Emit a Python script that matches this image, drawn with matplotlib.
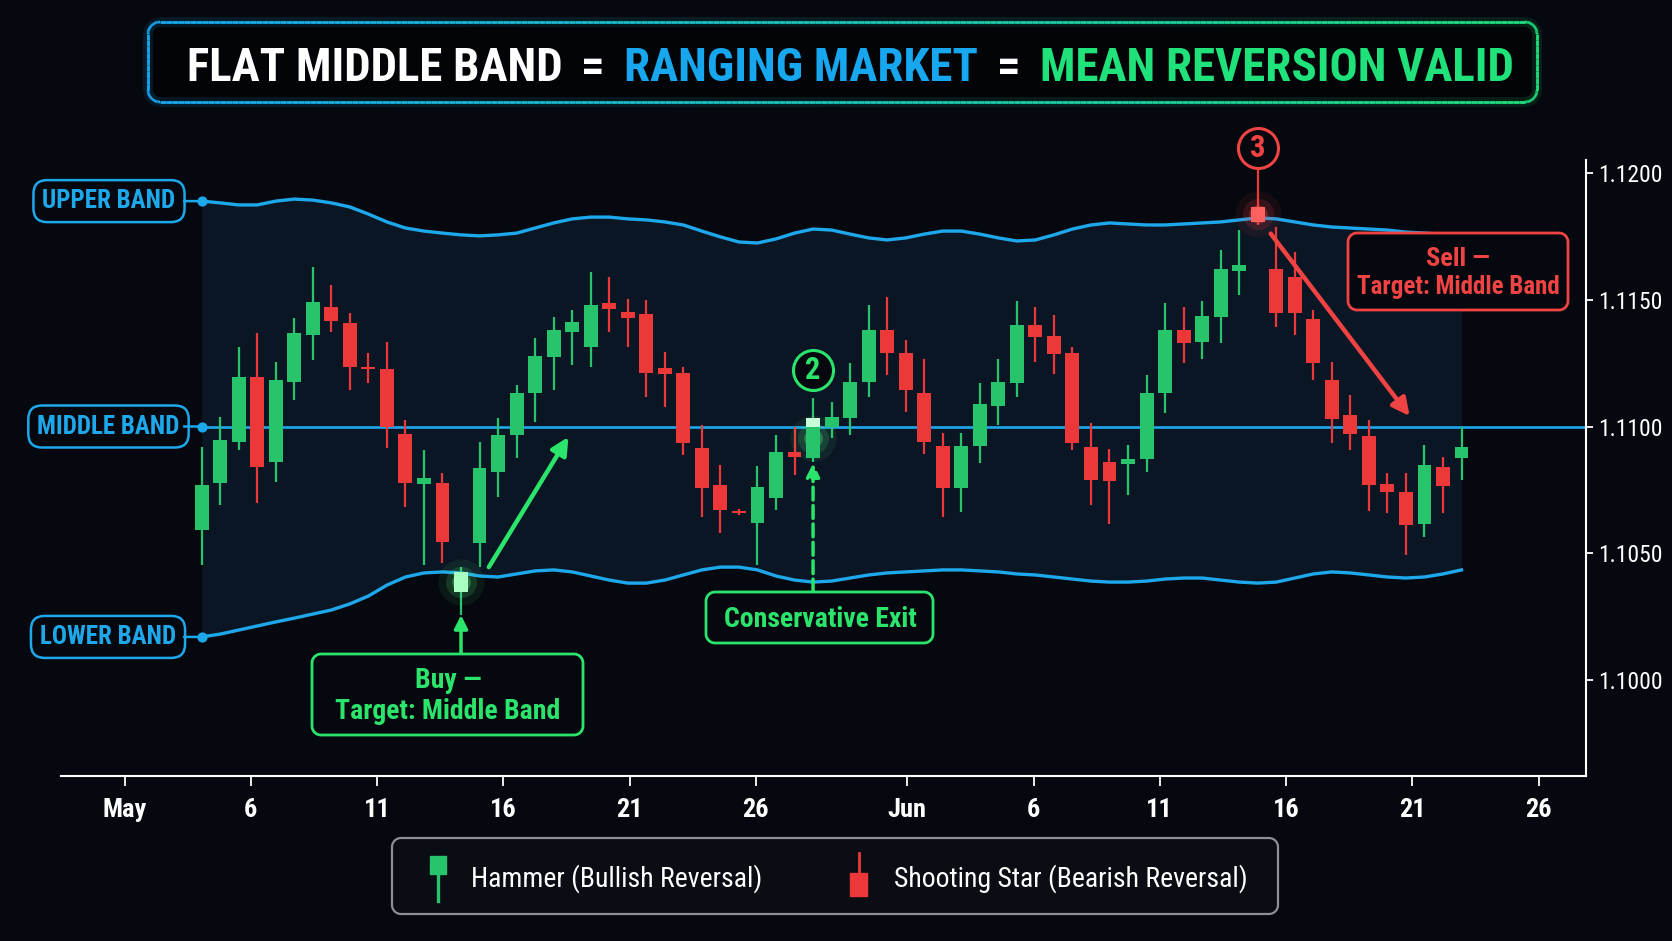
import numpy as np
import pandas as pd
import matplotlib
matplotlib.use('Agg')
import matplotlib.pyplot as plt
import matplotlib.dates as mdates
import matplotlib.colors as mcolors
import matplotlib.transforms as mtransforms
from matplotlib import font_manager
from matplotlib.patches import Polygon, Rectangle, ConnectionPatch
from matplotlib.collections import LineCollection

W, H = 1672, 941


def pick_font(cands):
    for name in cands:
        ws = set()
        for f in font_manager.fontManager.ttflist:
            if f.name == name and '[' not in f.fname and f.style == 'normal':
                try:
                    ws.add(int(f.weight))
                except ValueError:
                    ws.add({'bold': 700, 'normal': 400, 'regular': 400}.get(f.weight, 0))
        if 700 in ws and 400 in ws:
            return name
    return 'DejaVu Sans'


NARROW = pick_font(['Roboto Condensed', 'Barlow Condensed', 'Fira Sans Condensed',
                    'IBM Plex Sans Condensed', 'Asap Condensed', 'Encode Sans Condensed'])
plt.rcParams['font.family'] = [NARROW, 'DejaVu Sans']
plt.rcParams['font.stretch'] = 'condensed'

BG = '#05080e'
BAND_FILL = '#0b1624'
BLUE = '#1ea8ec'
UP = '#28c46c'
DOWN = '#ec3838'
GREEN_TXT = '#2be46c'
RED_TXT = '#f04343'
TITLE_BLUE = '#17a7ef'
TITLE_GREEN = '#1fe27a'

# ---- data ----
first_bar = '2024-05-04 01:12'
last_bar = '2024-06-22 22:48'

opens = [1.10592, 1.10776, 1.10940, 1.11194, 1.10861, 1.11177, 1.11361, 1.11470, 1.11409, 1.11233,
         1.11225, 1.10969, 1.10773, 1.10776, 1.10348, 1.10540, 1.10822, 1.10967, 1.11133, 1.11275,
         1.11374, 1.11314, 1.11485, 1.11452, 1.11443, 1.11229, 1.11210, 1.10914, 1.10770, 1.10667,
         1.10619, 1.10717, 1.10901, 1.10875, 1.10999, 1.11032, 1.11177, 1.11380, 1.11291, 1.11131,
         1.10924, 1.10756, 1.10923, 1.11081, 1.11173, 1.11400, 1.11357, 1.11288, 1.10918, 1.10861,
         1.10852, 1.10871, 1.11131, 1.11380, 1.11334, 1.11433, 1.11614, 1.11864, 1.11619, 1.11590,
         1.11422, 1.11183, 1.11045, 1.10963, 1.10773, 1.10743, 1.10614, 1.10839, 1.10875]
closes = [1.10770, 1.10947, 1.11196, 1.10840, 1.11183, 1.11367, 1.11492, 1.11417, 1.11233, 1.11225,
          1.10999, 1.10776, 1.10796, 1.10546, 1.10427, 1.10836, 1.10967, 1.11131, 1.11278, 1.11380,
          1.11413, 1.11479, 1.11462, 1.11426, 1.11210, 1.11207, 1.10934, 1.10756, 1.10671, 1.10658,
          1.10763, 1.10901, 1.10879, 1.11032, 1.11039, 1.11177, 1.11380, 1.11288, 1.11144, 1.10940,
          1.10756, 1.10924, 1.11089, 1.11177, 1.11400, 1.11351, 1.11286, 1.10934, 1.10789, 1.10785,
          1.10871, 1.11133, 1.11380, 1.11330, 1.11435, 1.11619, 1.11636, 1.11807, 1.11448, 1.11446,
          1.11251, 1.11028, 1.10970, 1.10769, 1.10743, 1.10612, 1.10848, 1.10766, 1.10920]
highs = [1.10919, 1.11039, 1.11314, 1.11368, 1.11255, 1.11426, 1.11630, 1.11557, 1.11446, 1.11288,
         1.11334, 1.11026, 1.10907, 1.10818, 1.10446, 1.10940, 1.11032, 1.11164, 1.11348, 1.11430,
         1.11459, 1.11610, 1.11590, 1.11501, 1.11498, 1.11295, 1.11233, 1.11006, 1.10848, 1.10675,
         1.10844, 1.10967, 1.10999, 1.11111, 1.11098, 1.11249, 1.11479, 1.11511, 1.11341, 1.11265,
         1.10976, 1.10973, 1.11170, 1.11265, 1.11496, 1.11470, 1.11439, 1.11314, 1.11013, 1.10910,
         1.10927, 1.11203, 1.11485, 1.11472, 1.11496, 1.11695, 1.11774, 1.11975, 1.11787, 1.11689,
         1.11459, 1.11255, 1.11124, 1.11026, 1.10818, 1.10816, 1.10927, 1.10879, 1.10999]
lows = [1.10454, 1.10691, 1.10907, 1.10699, 1.10783, 1.11104, 1.11262, 1.11374, 1.11144, 1.11170,
        1.10914, 1.10684, 1.10454, 1.10461, 1.10257, 1.10448, 1.10723, 1.10875, 1.11019, 1.11144,
        1.11242, 1.11236, 1.11374, 1.11314, 1.11117, 1.11078, 1.10888, 1.10645, 1.10579, 1.10650,
        1.10454, 1.10671, 1.10809, 1.10862, 1.10953, 1.10967, 1.11117, 1.11203, 1.11058, 1.10892,
        1.10642, 1.10664, 1.10855, 1.11006, 1.11117, 1.11255, 1.11207, 1.10907, 1.10691, 1.10616,
        1.10730, 1.10822, 1.11052, 1.11249, 1.11265, 1.11328, 1.11518, 1.11795, 1.11393, 1.11361,
        1.11183, 1.10934, 1.10907, 1.10668, 1.10658, 1.10494, 1.10566, 1.10658, 1.10789]

upper_band = [1.11888, 1.11881, 1.11873, 1.11873, 1.11888, 1.11896, 1.11892, 1.11881, 1.11865, 1.11837,
              1.11806, 1.11782, 1.11770, 1.11762, 1.11755, 1.11751, 1.11755, 1.11762, 1.11782, 1.11802,
              1.11818, 1.11825, 1.11825, 1.11818, 1.11814, 1.11806, 1.11794, 1.11770, 1.11747, 1.11727,
              1.11723, 1.11739, 1.11762, 1.11778, 1.11774, 1.11758, 1.11743, 1.11735, 1.11743, 1.11758,
              1.11770, 1.11770, 1.11758, 1.11743, 1.11731, 1.11735, 1.11755, 1.11778, 1.11794, 1.11802,
              1.11798, 1.11794, 1.11794, 1.11798, 1.11802, 1.11806, 1.11814, 1.11822, 1.11818, 1.11806,
              1.11794, 1.11786, 1.11782, 1.11778, 1.11774, 1.11766, 1.11762, 1.11758, 1.11755]
lower_band = [1.10171, 1.10182, 1.10198, 1.10214, 1.10230, 1.10245, 1.10261, 1.10277, 1.10301, 1.10332,
              1.10375, 1.10407, 1.10423, 1.10427, 1.10423, 1.10411, 1.10407, 1.10419, 1.10431, 1.10435,
              1.10427, 1.10411, 1.10395, 1.10383, 1.10383, 1.10395, 1.10415, 1.10435, 1.10446, 1.10446,
              1.10435, 1.10411, 1.10395, 1.10387, 1.10391, 1.10403, 1.10415, 1.10423, 1.10427, 1.10431,
              1.10435, 1.10435, 1.10431, 1.10427, 1.10419, 1.10415, 1.10407, 1.10399, 1.10391, 1.10387,
              1.10387, 1.10391, 1.10399, 1.10403, 1.10403, 1.10395, 1.10387, 1.10383, 1.10387, 1.10403,
              1.10419, 1.10427, 1.10423, 1.10415, 1.10407, 1.10403, 1.10407, 1.10419, 1.10435]
middle_band = 1.1100  # flat

hammer_idx = 14
exit_idx = 33
star_idx = 57

tick_dates = ['2024-05-01', '2024-05-06', '2024-05-11', '2024-05-16', '2024-05-21', '2024-05-26',
              '2024-06-01', '2024-06-06', '2024-06-11', '2024-06-16', '2024-06-21', '2024-06-26']
tick_labels = ['May', '6', '11', '16', '21', '26', 'Jun', '6', '11', '16', '21', '26']
y_ticks = [1.1000, 1.1050, 1.1100, 1.1150, 1.1200]


def fx(x):
    return x / W


def fy(y):
    return 1 - y / H


def rounded_outline(x0, y0, x1, y1, r, n=16):
    arcs = [(x1 - r, y0 + r, -90, 0), (x1 - r, y1 - r, 0, 90),
            (x0 + r, y1 - r, 90, 180), (x0 + r, y0 + r, 180, 270)]
    pts = []
    for cx, cy, a0, a1 in arcs:
        a = np.radians(np.linspace(a0, a1, n))
        pts += list(zip(cx + r * np.cos(a), cy + r * np.sin(a)))
    pts.append(pts[0])
    pts = np.array(pts)
    dense = [pts[0]]
    for p, q in zip(pts[:-1], pts[1:]):
        k = max(1, int(np.hypot(*(q - p)) // 6))
        for s in np.linspace(0, 1, k + 1)[1:]:
            dense.append(p + (q - p) * s)
    return np.array(dense)


def panel(x0, y0, x1, y1, r, ec, fc, lw=2.0, z=5):
    pts = rounded_outline(x0, y0, x1, y1, r)
    poly = Polygon(np.column_stack([fx(pts[:, 0]), fy(pts[:, 1])]), closed=True,
                   transform=fig.transFigure, facecolor=fc, edgecolor=ec, lw=lw, zorder=z)
    fig.add_artist(poly)


fig = plt.figure(figsize=(W / 100, H / 100), dpi=100, facecolor=BG)
ax = fig.add_axes([fx(61), fy(776), (1586 - 61) / W, (776 - 160) / H])
ax.set_facecolor(BG)

t = mdates.date2num(pd.date_range(first_bar, last_bar, periods=len(opens)).to_pydatetime())
step = t[1] - t[0]
may1 = mdates.date2num(pd.Timestamp('2024-05-01').to_pydatetime())
ax.set_xlim(may1 - 2.52, may1 + 57.88)
ax.set_ylim(1.09623, 1.12050)

# bands
ax.fill_between(t, lower_band, upper_band, color=BAND_FILL, lw=0, zorder=0)
ax.plot(t, upper_band, color=BLUE, lw=2.4, zorder=2)
ax.plot(t, lower_band, color=BLUE, lw=2.4, zorder=2)
ax.plot([t[0], ax.get_xlim()[1]], [middle_band, middle_band], color=BLUE, lw=1.9, zorder=2)
ax.scatter([t[0]] * 3, [upper_band[0], middle_band, lower_band[0]], s=40, color=BLUE,
           zorder=6, clip_on=False)

# candles
o = np.array(opens)
c = np.array(closes)
colors = [UP if cc >= oo else DOWN for oo, cc in zip(o, c)]
ax.vlines(t, lows, highs, colors=colors, lw=1.6, zorder=3)
body_h = np.maximum(np.abs(c - o), 0.00006)
ax.bar(t, body_h, width=0.75 * step, bottom=np.minimum(o, c), color=colors, lw=0, zorder=4)

# glow on the signal candles
for idx, col in [(hammer_idx, '#5cff8c'), (exit_idx, '#5cff8c'), (star_idx, '#ff4a4a')]:
    mid = (opens[idx] + closes[idx]) / 2
    for s, a in [(1100, 0.07), (500, 0.14), (180, 0.3)]:
        ax.scatter(t[idx], mid, s=s, color=col, alpha=a, lw=0, zorder=3.5)
for idx, col in [(hammer_idx, '#a8ffc0'), (star_idx, '#ff6060')]:
    ax.bar(t[idx], body_h[idx], width=0.75 * step, bottom=min(opens[idx], closes[idx]),
           color=col, lw=0, zorder=4.5)
ax.bar(t[exit_idx], 0.00035, width=0.75 * step, bottom=closes[exit_idx] - 0.00035,
       color='#c8ffd8', lw=0, zorder=4.5)

# axes styling
for side in ['top', 'left']:
    ax.spines[side].set_visible(False)
for side in ['right', 'bottom']:
    ax.spines[side].set_color('white')
    ax.spines[side].set_linewidth(1.5)
ax.yaxis.tick_right()
ax.set_yticks(y_ticks, labels=['%.4f' % v for v in y_ticks])
ax.set_xticks([mdates.date2num(pd.Timestamp(d).to_pydatetime()) for d in tick_dates],
              labels=tick_labels, fontweight='bold')
ax.tick_params(axis='y', colors='white', labelsize=17, length=5, width=1.3, pad=4)
ax.tick_params(axis='x', colors='white', labelsize=19, length=7, width=1.3, pad=9)

# band labels on the left
lab_trans = mtransforms.blended_transform_factory(fig.transFigure, ax.transData)
for text, yv, cx in [('UPPER BAND', upper_band[0], 109), ('MIDDLE BAND', middle_band, 108.5),
                     ('LOWER BAND', lower_band[0], 108)]:
    ax.text(fx(cx), yv, text, transform=lab_trans, ha='center', va='center', color=BLUE,
            fontsize=18, fontweight='bold', zorder=7, clip_on=False,
            bbox=dict(boxstyle='round,pad=0.36,rounding_size=0.55', fc=BG, ec=BLUE, lw=1.8))
    con = ConnectionPatch(xyA=(fx(184), yv), coordsA=lab_trans, xyB=(t[0], yv), coordsB=ax.transData,
                          color=BLUE, lw=1.8, zorder=5)
    fig.add_artist(con)

# numbered markers
for idx, yv, num, col in [(exit_idx, 1.11223, '2', GREEN_TXT), (star_idx, 1.12097, '3', RED_TXT)]:
    ax.scatter(t[idx], yv, s=830, facecolor=BG, edgecolor=col, lw=2.2, zorder=6, clip_on=False)
    ax.text(t[idx], yv, num, ha='center', va='center', color=col, fontsize=22,
            fontweight='bold', zorder=7, clip_on=False)
ax.vlines(t[star_idx], highs[star_idx], 1.12097 - 0.0008, color=DOWN, lw=1.6, zorder=3)

# arrows
col_trans = mtransforms.blended_transform_factory(ax.transData, fig.transFigure)
ax.annotate('', xy=(t[hammer_idx], lows[hammer_idx]), xytext=(t[hammer_idx], fy(653)),
            textcoords=col_trans, annotation_clip=False,
            arrowprops=dict(arrowstyle='-|>', color=GREEN_TXT, lw=2.5, mutation_scale=20,
                            shrinkA=0, shrinkB=0), zorder=8)
ax.annotate('', xy=(t[hammer_idx] + 5.8 * step, 1.10959), xytext=(t[hammer_idx] + 1.5 * step, 1.10446),
            arrowprops=dict(arrowstyle='-|>', color=GREEN_TXT, lw=3.2, mutation_scale=26,
                            shrinkA=0, shrinkB=0), zorder=8)
ax.annotate('', xy=(t[exit_idx], opens[exit_idx] - 0.0002), xytext=(t[exit_idx], fy(592)),
            textcoords=col_trans, annotation_clip=False,
            arrowprops=dict(arrowstyle='-|>', color=GREEN_TXT, lw=2.5, ls='--', mutation_scale=20,
                            shrinkA=0, shrinkB=0), zorder=8)
ax.annotate('', xy=(t[star_idx] + 8.2 * step, 1.11041), xytext=(t[star_idx] + 0.7 * step, 1.11760),
            arrowprops=dict(arrowstyle='-|>', color=RED_TXT, lw=3.2, mutation_scale=26,
                            shrinkA=0, shrinkB=0), zorder=8)

# annotation boxes
panel(312, 654, 583, 735, 9, GREEN_TXT, BG, lw=2.0)
fig.text(fx(448), fy(688), 'Buy \u2014', ha='center', va='baseline', color=GREEN_TXT,
         fontsize=20, fontweight='bold', zorder=9)
fig.text(fx(448), fy(719), 'Target: Middle Band', ha='center', va='baseline', color=GREEN_TXT,
         fontsize=20, fontweight='bold', zorder=9)
panel(706, 592, 933, 643, 9, GREEN_TXT, BG, lw=2.0)
fig.text(fx(820), fy(627), 'Conservative Exit', ha='center', va='baseline', color=GREEN_TXT,
         fontsize=20, fontweight='bold', zorder=9)
panel(1348, 233, 1568, 310, 9, RED_TXT, BG, lw=2.0)
fig.text(fx(1458), fy(266), 'Sell \u2014', ha='center', va='baseline', color=RED_TXT,
         fontsize=19, fontweight='bold', zorder=9)
fig.text(fx(1458), fy(294), 'Target: Middle Band', ha='center', va='baseline', color=RED_TXT,
         fontsize=18, fontweight='bold', zorder=9)

# title box with blue -> green border
tb = (148, 22, 1537, 102)
panel(*tb, 12, 'none', '#020408', lw=0, z=4)
pts = rounded_outline(*tb, 12)
segs = np.stack([np.column_stack([fx(pts[:-1, 0]), fy(pts[:-1, 1])]),
                 np.column_stack([fx(pts[1:, 0]), fy(pts[1:, 1])])], axis=1)
ramp = mcolors.LinearSegmentedColormap.from_list('ramp', ['#19a9f2', '#1fe07c'])
seg_col = ramp((pts[:-1, 0] - tb[0]) / (tb[2] - tb[0]))
for lw, a in [(7, 0.12), (2.0, 1.0)]:
    lc = LineCollection(segs, colors=seg_col, linewidths=lw, alpha=a, transform=fig.transFigure, zorder=5)
    fig.add_artist(lc)

pieces = [('FLAT MIDDLE BAND', 'white'), ('=', 'white'), ('RANGING MARKET', TITLE_BLUE),
          ('=', 'white'), ('MEAN REVERSION VALID', TITLE_GREEN)]
renderer = fig.canvas.get_renderer()
gap = 19
fs = 36
titles = [fig.text(0, fy(81), s, color=col, fontsize=fs, fontweight='bold', va='baseline',
                   ha='left', zorder=9) for s, col in pieces]
widths = [tx.get_window_extent(renderer).width for tx in titles]
fs = min(fs * (1328 - gap * 4) / sum(widths), 40)
for tx in titles:
    tx.set_fontsize(fs)
widths = [tx.get_window_extent(renderer).width for tx in titles]
x = 850 - (sum(widths) + gap * 4) / 2
for tx, w in zip(titles, widths):
    tx.set_x(fx(x))
    x += w + gap

# legend
panel(392, 838, 1278, 914, 9, '#8c8f95', '#0a0d13', lw=1.6)
fig.add_artist(Rectangle((fx(430), fy(874)), 16 / W, 18 / H, transform=fig.transFigure,
                         color=UP, zorder=9))
fig.add_artist(plt.Line2D([fx(438), fx(438)], [fy(874), fy(901)], transform=fig.transFigure,
                          color=UP, lw=2.4, zorder=9))
fig.add_artist(Rectangle((fx(850), fy(896)), 17 / W, 23 / H, transform=fig.transFigure,
                         color=DOWN, zorder=9))
fig.add_artist(plt.Line2D([fx(858.5), fx(858.5)], [fy(853), fy(873)], transform=fig.transFigure,
                          color=DOWN, lw=2.0, zorder=9))
fig.text(fx(471), fy(887), 'Hammer (Bullish Reversal)', color='white', fontsize=20,
         va='baseline', ha='left', zorder=9)
fig.text(fx(894), fy(887), 'Shooting Star (Bearish Reversal)', color='white', fontsize=20,
         va='baseline', ha='left', zorder=9)

fig.savefig('out.png', dpi=100, facecolor=BG)
